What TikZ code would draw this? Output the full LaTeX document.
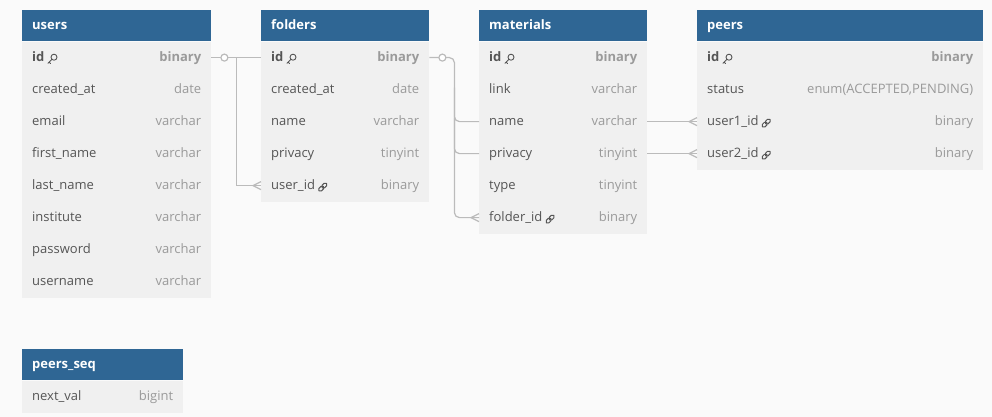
\documentclass[tikz,border=0pt]{standalone}
\usepackage{fontspec}
\setmainfont{Open Sans}
\usetikzlibrary{calc}
\definecolor{hdr}{HTML}{2F6694}
\definecolor{rowbg}{HTML}{F0F0F0}
\definecolor{pagebg}{HTML}{FAFAFA}
\definecolor{ntxt}{HTML}{555555}
\definecolor{ttxt}{HTML}{9A9A9A}
\definecolor{conn}{HTML}{BBBBBB}
\tikzset{
  hdrbox/.style={fill=hdr, draw=none, anchor=north west, minimum height=31, inner sep=0},
  hdrtext/.style={text=white, font=\bfseries\fontsize{13}{15}\selectfont, anchor=west, inner sep=0, text height=9, text depth=3.5, yshift=-1.5pt},
  rowbox/.style={fill=rowbg, draw=none, anchor=north west, minimum height=32, inner sep=0},
  txtbase/.style={font=\fontsize{13}{15}\selectfont, inner sep=0, text height=9, text depth=3.5, yshift=-1.5pt},
  namen/.style={txtbase, text=ntxt},
  namel/.style={txtbase, text=ntxt},
  namek/.style={txtbase, text=ntxt, font=\bfseries\fontsize{13}{15}\selectfont},
  typen/.style={txtbase, text=ttxt},
  typel/.style={txtbase, text=ttxt},
  typek/.style={txtbase, text=ttxt, font=\bfseries\fontsize{13}{15}\selectfont},
  pics/iconn/.style={code={}},
  pics/iconk/.style={code={
    \draw[ntxt, line width=0.9] (1.9,-1.9) circle (3);
    \draw[ntxt, line width=0.9, line cap=round] (-0.2,0.2) -- (-4.2,4.2) (-3,3) -- (-1.6,4.4);
  }},
  pics/iconl/.style={code={
    \draw[ntxt, line width=1, rotate=45, rounded corners=1.6] (-5.2,-1.8) rectangle (0.8,1.8);
    \draw[ntxt, line width=1, rotate=45, rounded corners=1.6] (-0.8,-1.8) rectangle (5.2,1.8);
  }},
  conn/.style={draw=conn, line width=1.2},
  zcirc/.style={circle, draw=conn, line width=1.2, fill=white, minimum size=7, inner sep=0}
}
\newcommand\ertable[6]{% name, title, x, y, width, rows
  \node[hdrbox, minimum width=#5] (#1) at (#3,#4) {};
  \node[hdrtext] (#1-title) at ($(#1.west)+(10,0)$) {#2};
  \foreach \nm/\ty/\kd [count=\i] in {#6} {
    \node[rowbox, minimum width=#5] (#1-\i) at ($(#1.south west)+(0,{32*(\i-1)})$) {};
    \node[name\kd, anchor=west] (#1-\i-n) at ($(#1-\i.west)+(10,0)$) {\nm};
    \pic at ($(#1-\i-n.east)+(7.5,0)$) {icon\kd};
    \node[type\kd, anchor=east] (#1-\i-t) at ($(#1-\i.east)+(-10,0)$) {\ty};
  }
}
\newcommand\crow[1]{\draw[conn] ($(#1.west)+(-8,0)$) -- ($(#1.west)+(0,-4)$) ($(#1.west)+(-8,0)$) -- ($(#1.west)+(0,4)$);}
\begin{document}
\begin{tikzpicture}[x=1pt, y=-1pt]
\fill[pagebg] (0,0) rectangle (992,417);
\useasboundingbox (0,0) rectangle (992,417);

\ertable{users}{users}{22}{10}{189}{id/binary/k, created\_at/date/n, email/varchar/n, first\_name/varchar/n, last\_name/varchar/n, institute/varchar/n, password/varchar/n, username/varchar/n}
\ertable{folders}{folders}{261}{10}{168}{id/binary/k, created\_at/date/n, name/varchar/n, privacy/tinyint/n, user\_id/binary/l}
\ertable{materials}{materials}{479}{10}{168}{id/binary/k, link/varchar/n, name/varchar/n, privacy/tinyint/n, type/tinyint/n, folder\_id/binary/l}
\ertable{peers}{peers}{697}{10}{286}{id/binary/k, status/{enum(ACCEPTED,PENDING)}/n, user1\_id/binary/l, user2\_id/binary/l}
\ertable{seq}{peers\_seq}{22}{349}{161}{next\_val/bigint/n}

% users -> folders
\draw[conn] (users-1.east) -- (folders-1.west);
\draw[conn] ($(users-1.east)+(25,0)$) |- (folders-5.west);
\crow{folders-5}
\node[zcirc] (c1) at ($(users-1.east)+(13,0)$) {};

% folders -> materials
\draw[conn, rounded corners=5] (folders-1.east) -- ($(folders-1.east)+(25,0)$) |- (materials-6.west);
\draw[conn, rounded corners=5] ($(folders-1.east)+(25,30)$) |- (materials-3.west);
\draw[conn, rounded corners=5] ($(folders-1.east)+(25,60)$) |- (materials-4.west);
\crow{materials-6}
\node[zcirc] (c2) at ($(folders-1.east)+(13,0)$) {};

% materials -> peers
\draw[conn] (materials-3.east) -- (peers-3.west);
\draw[conn] (materials-4.east) -- (peers-4.west);
\crow{peers-3}
\crow{peers-4}
\end{tikzpicture}
\end{document}
